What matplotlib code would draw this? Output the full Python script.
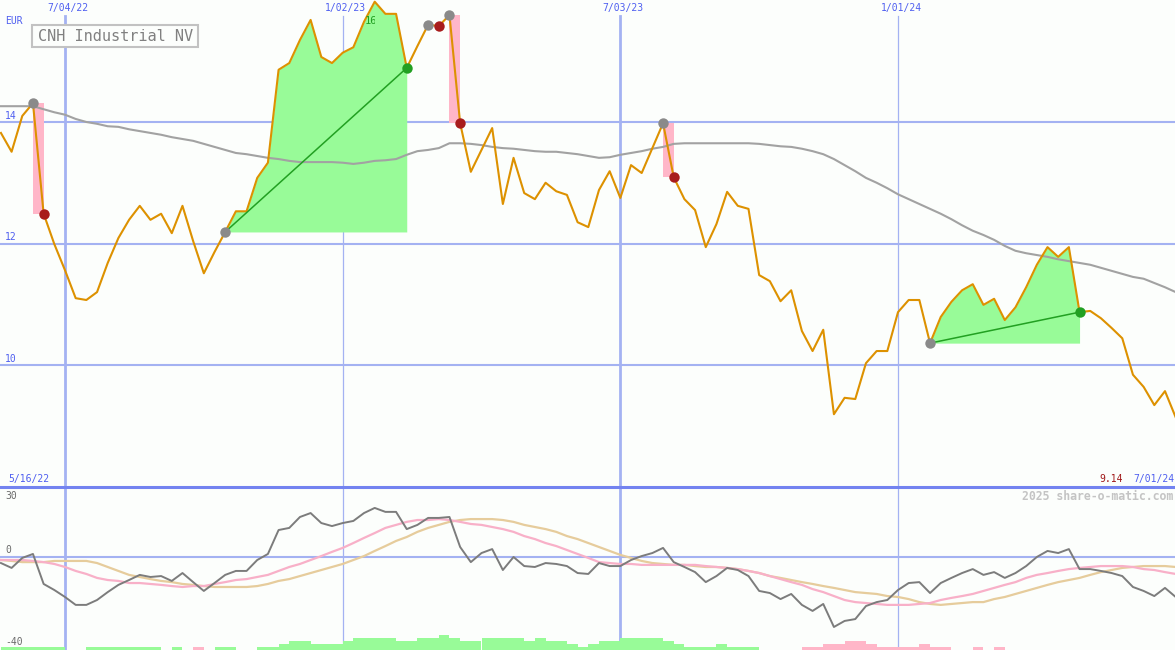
import matplotlib
matplotlib.use('Agg')
import matplotlib.pyplot as plt
import matplotlib.dates as mdates
from matplotlib.patches import Rectangle
from matplotlib.lines import Line2D
from matplotlib.transforms import Bbox
import pandas as pd
import datetime as dt

# ---------------- data ----------------
dates = pd.date_range('2022-05-23', periods=111, freq='7D')

close = [13.82, 13.51, 14.10, 14.31, 12.49, 11.99, 11.56, 11.10, 11.07, 11.20,
         11.68, 12.09, 12.39, 12.62, 12.39, 12.49, 12.17, 12.62, 12.04, 11.51,
         11.86, 12.19, 12.53, 12.53, 13.08, 13.33, 14.86, 14.97, 15.35, 15.68,
         15.07, 14.97, 15.14, 15.23, 15.65, 15.98, 15.78, 15.78, 14.89, 15.25,
         15.60, 15.58, 15.76, 13.98, 13.18, 13.54, 13.90, 12.65, 13.41, 12.83,
         12.73, 13.00, 12.86, 12.80, 12.35, 12.27, 12.88, 13.19, 12.75, 13.29,
         13.16, 13.57, 13.98, 13.09, 12.73, 12.55, 11.94, 12.32, 12.85, 12.62,
         12.57, 11.48, 11.38, 11.05, 11.23, 10.56, 10.23, 10.58, 9.19, 9.46,
         9.44, 10.03, 10.23, 10.23, 10.87, 11.07, 11.07, 10.36, 10.79, 11.04,
         11.23, 11.33, 10.99, 11.09, 10.74, 10.95, 11.28, 11.65, 11.94, 11.78,
         11.94, 10.87, 10.89, 10.77, 10.61, 10.44, 9.84, 9.64, 9.34, 9.57,
         9.14]

ma = [14.26, 14.26, 14.26, 14.26, 14.21, 14.16, 14.12, 14.05, 14.00, 13.97,
      13.93, 13.92, 13.88, 13.85, 13.82, 13.79, 13.75, 13.72, 13.69, 13.64,
      13.59, 13.54, 13.49, 13.47, 13.44, 13.41, 13.39, 13.36, 13.34, 13.34,
      13.34, 13.34, 13.33, 13.31, 13.33, 13.36, 13.37, 13.39, 13.46, 13.52,
      13.54, 13.57, 13.65, 13.65, 13.64, 13.62, 13.59, 13.57, 13.56, 13.54,
      13.52, 13.51, 13.51, 13.49, 13.47, 13.44, 13.41, 13.42, 13.46, 13.49,
      13.52, 13.56, 13.59, 13.64, 13.65, 13.65, 13.65, 13.65, 13.65, 13.65,
      13.65, 13.64, 13.62, 13.60, 13.59, 13.56, 13.52, 13.47, 13.39, 13.29,
      13.19, 13.08, 13.00, 12.91, 12.81, 12.73, 12.65, 12.57, 12.49, 12.40,
      12.30, 12.21, 12.14, 12.06, 11.96, 11.88, 11.84, 11.81, 11.78, 11.74,
      11.71, 11.68, 11.65, 11.60, 11.55, 11.50, 11.45, 11.42, 11.35, 11.28,
      11.20]

osc = [-2.6, -4.7, -0.4, 1.3, -11.6, -14.2, -17.2, -20.6, -20.6, -18.5,
       -15.1, -12.0, -9.9, -7.7, -8.6, -8.2, -10.3, -6.9, -10.8, -14.6,
       -11.2, -7.7, -6.0, -6.0, -1.3, 1.3, 11.6, 12.5, 17.2, 18.9,
       14.6, 13.3, 14.6, 15.5, 18.9, 21.1, 19.4, 19.4, 12.0, 13.8,
       16.8, 16.8, 17.2, 4.3, -2.2, 1.7, 3.4, -5.6, 0.0, -3.9,
       -4.3, -2.6, -3.0, -3.9, -6.9, -7.3, -2.6, -3.9, -3.9, -1.3,
       0.4, 1.7, 3.9, -2.2, -4.3, -6.5, -10.8, -8.2, -4.7, -5.6,
       -8.2, -14.6, -15.5, -18.1, -15.9, -20.6, -23.2, -20.2, -30.1, -27.5,
       -26.7, -21.1, -19.4, -18.5, -14.2, -11.2, -10.8, -15.5, -11.2, -9.0,
       -6.9, -5.2, -7.7, -6.5, -9.0, -6.9, -3.9, 0.0, 2.6, 1.7,
       3.4, -5.2, -5.2, -6.0, -6.9, -8.2, -12.9, -14.6, -16.8, -13.3,
       -17.2]

sig_fast = [-1.3, -1.3, -1.3, -1.7, -2.2, -3.0, -4.3, -6.0, -7.3, -9.0,
            -9.9, -10.3, -11.2, -11.2, -11.6, -12.0, -12.5, -12.9, -12.5, -12.5,
            -11.6, -10.8, -9.9, -9.5, -8.6, -7.7, -6.0, -4.3, -3.0, -1.3,
            0.4, 2.2, 3.9, 6.0, 8.2, 10.3, 12.5, 13.8, 15.1, 15.9,
            15.9, 16.3, 15.9, 15.1, 14.2, 13.8, 12.9, 12.0, 10.8, 9.0,
            7.7, 6.0, 4.7, 3.0, 1.3, -0.4, -2.2, -2.6, -3.0, -3.0,
            -3.4, -3.4, -3.4, -3.4, -3.4, -3.4, -3.9, -4.3, -4.7, -5.2,
            -6.0, -6.9, -8.2, -9.5, -10.8, -12.0, -13.8, -15.1, -16.8, -18.5,
            -19.4, -19.8, -20.2, -20.6, -20.6, -20.6, -20.2, -19.8, -18.5, -17.6,
            -16.8, -15.9, -14.6, -13.3, -12.0, -10.8, -9.0, -7.7, -6.9, -6.0,
            -5.2, -4.7, -4.3, -3.9, -3.9, -3.9, -4.3, -5.2, -5.6, -6.5,
            -7.3]

sig_slow = [-1.3, -1.7, -2.2, -2.2, -2.2, -1.7, -1.7, -1.7, -1.7, -2.6,
            -4.3, -6.0, -7.7, -8.6, -9.5, -10.3, -10.8, -11.6, -12.0, -12.5,
            -12.9, -12.9, -12.9, -12.9, -12.5, -11.6, -10.3, -9.5, -8.2, -6.9,
            -5.6, -4.3, -3.0, -1.3, 0.4, 2.6, 4.7, 6.9, 8.6, 10.8,
            12.5, 13.8, 15.1, 15.9, 16.3, 16.3, 16.3, 15.9, 15.1, 13.8,
            12.9, 12.0, 10.8, 9.0, 7.7, 6.0, 4.3, 2.6, 0.9, -0.4,
            -1.7, -2.6, -3.0, -3.4, -3.4, -3.9, -4.3, -4.3, -4.7, -5.2,
            -6.0, -6.9, -8.2, -9.0, -9.9, -10.8, -11.6, -12.5, -13.3, -14.2,
            -15.1, -15.5, -15.9, -16.8, -17.2, -18.1, -19.4, -20.2, -20.6, -20.2,
            -19.8, -19.4, -19.4, -18.1, -17.2, -15.9, -14.6, -13.3, -12.0, -10.8,
            -9.9, -9.0, -7.7, -6.5, -5.6, -4.7, -4.3, -3.9, -3.9, -3.9,
            -4.3]

hist = [1.3, 1.3, 1.3, 1.3, 1.3, 1.3, 0, 0, 1.3, 1.3,
        1.3, 1.3, 1.3, 1.3, 1.3, 0, 1.3, 0, -1.3, 0,
        1.3, 1.3, 0, 0, 1.3, 1.3, 2.6, 3.9, 3.9, 2.6,
        2.6, 2.6, 3.9, 5.2, 5.2, 5.2, 5.2, 3.9, 3.9, 5.2,
        5.2, 6.5, 5.2, 3.9, 3.9, 5.2, 5.2, 5.2, 5.2, 3.9,
        5.2, 3.9, 3.9, 2.6, 1.3, 2.6, 3.9, 3.9, 5.2, 5.2,
        5.2, 5.2, 3.9, 2.6, 1.3, 1.3, 1.3, 2.6, 1.3, 1.3,
        1.3, 0, 0, 0, 0, -1.3, -1.3, -2.6, -2.6, -3.9,
        -3.9, -2.6, -1.3, -1.3, -1.3, -1.3, -2.6, -1.3, -1.3, 0,
        0, -1.3, 0, -1.3, 0, 0, 0, 0, 0, 0,
        0, 0, 0, 0, 0, 0, 0, 0, 0, 0]

# trades: (entry index, exit index)
trades = [(3, 4), (21, 38), (40, 41), (42, 43), (62, 63), (87, 101)]

price_ticks = [10, 12, 14]
osc_ticks = [30, 0, -40]
grid_dates = [dt.datetime(2022, 7, 4), dt.datetime(2023, 1, 2),
              dt.datetime(2023, 7, 3), dt.datetime(2024, 1, 1)]
grid_labels = ['7/04/22', '1/02/23', '7/03/23', '1/01/24']
title = 'CNH Industrial NV'
currency = 'EUR'
start_label = '5/16/22'
end_label = '7/01/24'
last_label = '9.14'
credit = '2025 share-o-matic.com'

# ---------------- style ----------------
W, H = 1175, 650
BG = '#fcfefc'
GRID = '#a4b2f2'
BLUE_TXT = '#4f5ff0'
ORANGE = '#dd9100'
MONO = 'DejaVu Sans Mono'

fig = plt.figure(figsize=(W / 100, H / 100), dpi=100, facecolor=BG)
top_h = 487
ax1 = fig.add_axes([0, (H - top_h) / H, 1, top_h / H])
ax2 = fig.add_axes([0, 0, 1, (H - top_h) / H])
for ax in (ax1, ax2):
    ax.set_facecolor('none')
    ax.set_axis_off()

px_per_day = 833 / 546.0
left = mdates.date2num(grid_dates[0]) - 65 / px_per_day
right = left + W / px_per_day
ax1.set_xlim(left, right)
ax2.set_xlim(left, right)
ax1.set_ylim(7.992, 16.008)
ax2.set_ylim(-40, 30.1)

xd = mdates.date2num(dates)

# grid
for p in price_ticks:
    ax1.axhline(p, color=GRID, lw=1.5, zorder=1)
for d in grid_dates:
    lw = 2.0 if d.month == 7 else 0.9
    ax1.axvline(mdates.date2num(d), ymin=0, ymax=1 - 16 / top_h, color=GRID, lw=lw, zorder=1)
    ax2.axvline(mdates.date2num(d), color=GRID, lw=lw, zorder=1)
ax2.axhline(0, color=GRID, lw=1.5, zorder=1)

# trade fills
for a, b in trades:
    if close[b] >= close[a]:
        ax1.fill_between(xd[a:b + 1], close[a:b + 1], close[a], color='#98fb98', lw=0, zorder=2)
    else:
        ax1.add_patch(Rectangle((xd[a], close[b]), xd[b] - xd[a], close[a] - close[b],
                                facecolor='#ffb6c8', edgecolor='none', zorder=2))

# moving average and price
ax1.plot(xd, ma, color='#a2a2a2', lw=1.5, zorder=3)
ax1.plot(xd, close, color=ORANGE, lw=1.5, zorder=4)

for a, b in trades:
    win = close[b] >= close[a]
    if win:
        ax1.plot([xd[a], xd[b]], [close[a], close[b]], color='#22a022', lw=1.1, zorder=5)
    ax1.plot(xd[a], close[a], 'o', ms=7.5, color='#8a8a8a', mec='none', zorder=6)
    ax1.plot(xd[b], close[b], 'o', ms=7.5, color='#22a022' if win else '#a81c1c', mec='none', zorder=6)

# oscillator panel
for j, h in enumerate(hist):
    if h != 0:
        ax2.bar(xd[j], abs(h), width=xd[j + 1] - xd[j], bottom=-40, align='edge',
                color='#98fb98' if h > 0 else '#ffb6c8', lw=0, zorder=2)
ax2.plot(xd, sig_slow, color='#e6cc9c', lw=1.6, zorder=3)
ax2.plot(xd, sig_fast, color='#f8b0c8', lw=1.6, zorder=3)
ax2.plot(xd, osc, color='#7c7c7c', lw=1.4, zorder=4)

fig.add_artist(Line2D([0, 1], [(H - top_h) / H] * 2, transform=fig.transFigure,
                      color='#7383f0', lw=2.2, zorder=10))


def ptxt(x, y, s, **kw):
    kw.setdefault('family', MONO)
    kw.setdefault('va', 'center')
    return fig.text(x / W, 1 - y / H, s, **kw)


# labels
for d, lab in zip(grid_dates, grid_labels):
    xpix = (mdates.date2num(d) - left) * px_per_day
    ptxt(xpix + 3, 8, lab, ha='center', fontsize=7, color=BLUE_TXT)
ptxt(5, 21, currency, fontsize=7, color=BLUE_TXT)
for p in price_ticks:
    ypix = 122 + (14 - p) * 60.75
    ptxt(5, ypix - 6, str(p), fontsize=7, color=BLUE_TXT)
ptxt(8, 479, start_label, fontsize=7, color=BLUE_TXT)
ptxt(1123, 479, last_label, ha='right', fontsize=7, color='#a01818')
ptxt(1174, 479, end_label, ha='right', fontsize=7, color=BLUE_TXT)
ptxt(1173, 496, credit, ha='right', fontsize=8.3, color='#c4c4c4', weight='bold')
for v, ypix in zip(osc_ticks, [496, 550, 642]):
    ptxt(5, ypix, str(v), fontsize=7, color='#6a6a6a')

# title box
fig.add_artist(Rectangle((32 / W, 1 - 47 / H), 166 / W, 22 / H, transform=fig.transFigure,
                         facecolor=BG, edgecolor='#c2c2c2', lw=1.5, zorder=8))
ptxt(38, 36.5, title, fontsize=11, color='#808080', zorder=9)

# clipped green label
t = ptxt(365, 21, '16', fontsize=7.5, color='#22a022', zorder=9)
t.set_clip_box(Bbox.from_extents(0, 0, 375, H))
t.set_clip_on(True)

fig.savefig('out.png', dpi=100, facecolor=BG)
